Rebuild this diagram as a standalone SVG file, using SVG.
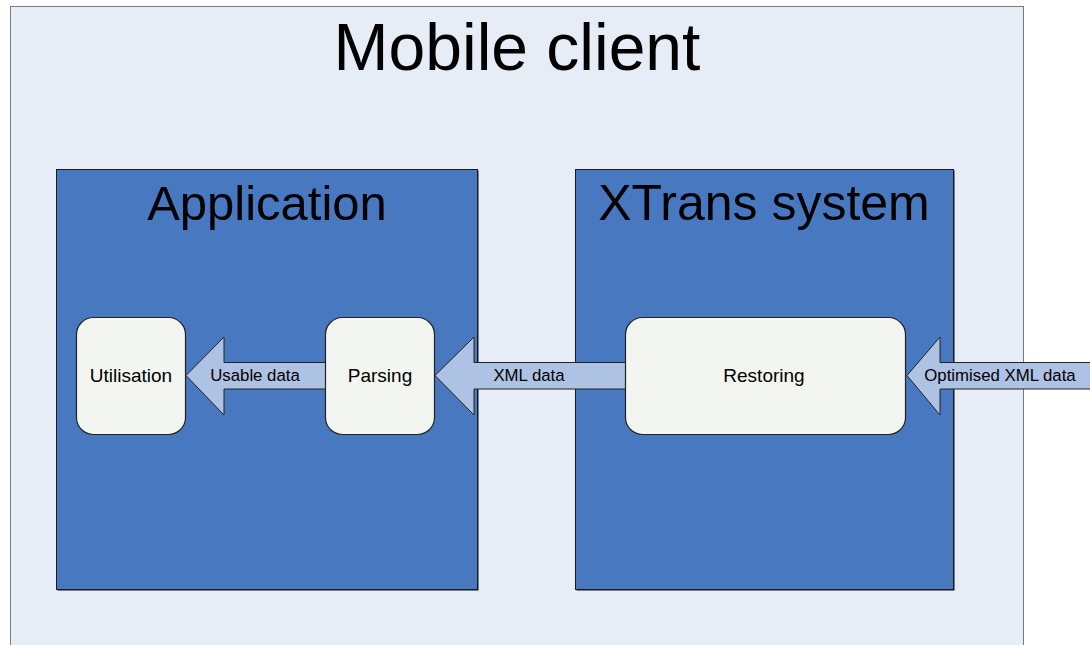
<svg xmlns="http://www.w3.org/2000/svg" width="1090" height="645" viewBox="0 0 1090 645">
<style>
.big{font-family:"Liberation Sans",Arial,sans-serif;fill:#000;text-anchor:middle}
.lbl{font-family:"Liberation Sans",Arial,sans-serif;font-size:16.8px;fill:#000;text-anchor:middle}
.nl{font-family:"Liberation Sans",Arial,sans-serif;font-size:19px;fill:#000;text-anchor:middle}
.cont{fill:#4878C0;stroke:#1a1a1a;stroke-width:1}
.node{fill:#F3F6F0;stroke:#222;stroke-width:1.2}
.arr{fill:#AEC2E3;stroke:#222;stroke-width:1}
</style>
<rect x="0" y="0" width="1090" height="645" fill="#fff"/>
<g id="mobile-client">
<rect x="10.5" y="6.5" width="1013" height="650" fill="#E6EDF7" stroke="#7a7a7a" stroke-width="1"/>
<text class="big" x="517" y="70" font-size="66">Mobile client</text>
</g>
<g id="application">
<rect x="57.5" y="170.5" width="421" height="420" fill="#111"/>
<rect class="cont" x="56.5" y="169.5" width="421" height="420"/>
<text class="big" x="267" y="220" font-size="49">Application</text>
</g>
<g id="xtrans">
<rect x="576.5" y="170.5" width="378" height="420" fill="#111"/>
<rect class="cont" x="575.5" y="169.5" width="378" height="420"/>
<text class="big" x="764" y="220" font-size="50">XTrans system</text>
</g>
<g id="connectors">
<polygon class="arr" points="1095,362.5 940,362.5 940,337 907,375.5 940,415 940,389 1095,389"/>
<polygon class="arr" points="626,362.5 474,362.5 474,337 435,375.5 474,415 474,389 626,389"/>
<polygon class="arr" points="326,362.5 224,362.5 224,337 186,375.5 224,415 224,389 326,389"/>
<text class="lbl" x="529" y="381">XML data</text>
<text class="lbl" x="255" y="381">Usable data</text>
<text class="lbl" x="1000" y="381">Optimised XML data</text>
</g>
<g id="utilisation">
<rect class="node" x="76.5" y="317.5" width="109" height="117" rx="17"/>
<text class="nl" x="131" y="382">Utilisation</text>
</g>
<g id="parsing">
<rect class="node" x="325.5" y="317.5" width="109" height="117" rx="17"/>
<text class="nl" x="380" y="382">Parsing</text>
</g>
<g id="restoring">
<rect class="node" x="625.5" y="317.5" width="280" height="117" rx="17"/>
<text class="nl" x="764" y="382">Restoring</text>
</g>
</svg>
